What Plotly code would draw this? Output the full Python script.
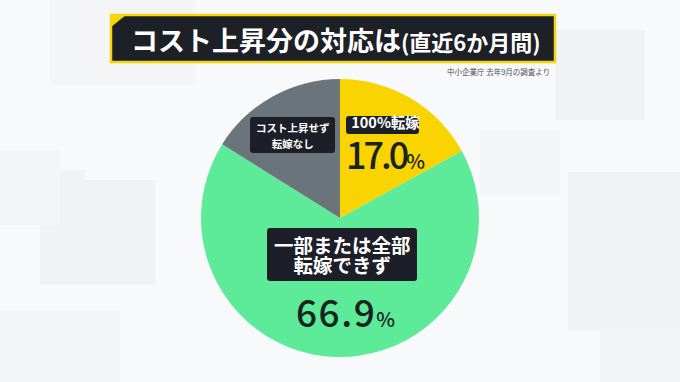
import plotly.graph_objects as go

W, H = 680, 382

labels = ["100%転嫁", "一部または全部転嫁できず", "コスト上昇せず転嫁なし"]
values = [17.0, 66.9, 16.1]
colors = ["#f9d400", "#5deb9a", "#6c747b"]
title_main = "コスト上昇分の対応は"
title_sub = "(直近6か月間)"
source = "中小企業庁 去年9月の調査より"
box_lines = {
    "yellow": ["100%転嫁"],
    "gray": ["コスト上昇せず", "転嫁なし"],
    "green": ["一部または全部", "転嫁できず"],
}

FONT = "Noto Sans CJK JP"


def px(x, y):
    return x / W, 1 - y / H


def rrect(x0, y0, x1, y1, r):
    def P(x, y):
        a, b = px(x, y)
        return f"{a:.5f},{b:.5f}"
    return (f"M{P(x0 + r, y0)} L{P(x1 - r, y0)} Q{P(x1, y0)} {P(x1, y0 + r)} "
            f"L{P(x1, y1 - r)} Q{P(x1, y1)} {P(x1 - r, y1)} L{P(x0 + r, y1)} "
            f"Q{P(x0, y1)} {P(x0, y1 - r)} L{P(x0, y0 + r)} Q{P(x0, y0)} {P(x0 + r, y0)} Z")


cx, cy, R = 340, 218, 139
dx0, dy0 = px(cx - R, cy + R)
dx1, dy1 = px(cx + R, cy - R)

fig = go.Figure(go.Pie(
    labels=labels, values=values, sort=False, direction="clockwise", rotation=0,
    marker=dict(colors=colors, line=dict(width=0)),
    textinfo="none", hoverinfo="skip", showlegend=False,
    domain=dict(x=[dx0, dx1], y=[dy0, dy1]),
))

shapes = []
# faint background blocks
bg_blocks = [
    (50, 0, 195, 85, "#f3f5f6"), (40, 170, 155, 285, "#f0f2f3"), (0, 150, 60, 225, "#f3f5f6"),
    (555, 30, 645, 120, "#f0f2f3"), (568, 172, 680, 330, "#f0f2f3"), (480, 130, 560, 195, "#f3f5f6"),
    (0, 310, 120, 382, "#f3f5f6"), (600, 330, 680, 382, "#f2f4f5"), (85, 95, 195, 180, "#f7f9fa"),
]
for x0, y0, x1, y1, c in bg_blocks:
    a0, b0 = px(x0, y0)
    a1, b1 = px(x1, y1)
    shapes.append(dict(type="rect", xref="paper", yref="paper", x0=a0, y0=b1, x1=a1, y1=b0,
                       fillcolor=c, line=dict(width=0), layer="below"))

# title box
a0, b0 = px(111, 15)
a1, b1 = px(555, 62)
shapes.append(dict(type="rect", xref="paper", yref="paper", x0=a0, y0=b1, x1=a1, y1=b0,
                   fillcolor="#1d2026", line=dict(color="#f3d60c", width=2.5)))
p1, p2, p3 = px(111, 15), px(126, 15), px(111, 27)
shapes.append(dict(type="path", xref="paper", yref="paper",
                   path=f"M{p1[0]},{p1[1]} L{p2[0]},{p2[1]} L{p3[0]},{p3[1]} Z",
                   fillcolor="#f3d60c", line=dict(width=0)))

# label boxes
BOX = "#1c1f27"
for (x0, y0, x1, y1) in [(346, 116, 419, 134), (250, 117, 335, 153), (267, 228, 417, 281)]:
    shapes.append(dict(type="path", xref="paper", yref="paper", path=rrect(x0, y0, x1, y1, 3),
                       fillcolor=BOX, line=dict(width=0)))

ann = []


def text(x, y, s, size, color="white", xanchor="center", weight="bold", family=FONT):
    a, b = px(x, y)
    ann.append(dict(x=a, y=b, xref="paper", yref="paper", text=s, showarrow=False,
                    xanchor=xanchor, yanchor="middle", align="center",
                    font=dict(size=size, color=color, family=family, weight=weight)))


def lines(items, size):
    return "<br>".join(f"<span style='font-size:{size}px'>{t}</span>" for t in items)


text(335.5, 39, f"<b>{title_main}</b><span style='font-size:22px'><b>{title_sub}</b></span>", 27)
text(552, 71, source, 7.5, color="#4a4f55", xanchor="right", weight="normal")

# gray box: two lines, 16px apart
text(292.5, 135.5, lines(box_lines["gray"], 10.5), 12.3)
# green box: two lines, 20px apart
text(342, 255, lines(box_lines["green"], 19.5), 15.4)

NUM = "#17231c"
# yellow: label line + value line
yellow_txt = (f"<span style='font-size:14.5px;font-weight:bold'>{box_lines['yellow'][0]}</span><br>"
              f"<span style='font-size:36px;font-weight:500;color:{NUM}'>"
              f"<span style='letter-spacing:-3px'>{values[0]:.1f}</span>"
              f"<span style='font-size:20px'>%</span></span>")
text(385, 145, yellow_txt, 31.5, weight=500)

text(294, 311, f"<span style='letter-spacing:1.5px'>{values[1]:.1f}</span><span style='font-size:20px'>%</span>",
     37, color=NUM, weight=500, xanchor="left")

fig.update_layout(
    width=W, height=H, margin=dict(l=0, r=0, t=0, b=0),
    paper_bgcolor="#f8f9fa", plot_bgcolor="#f8f9fa",
    shapes=shapes, annotations=ann,
    font=dict(family=FONT),
)
fig.write_html("out.html", config={"displayModeBar": False},
               post_script="document.body.style.margin='0';")
